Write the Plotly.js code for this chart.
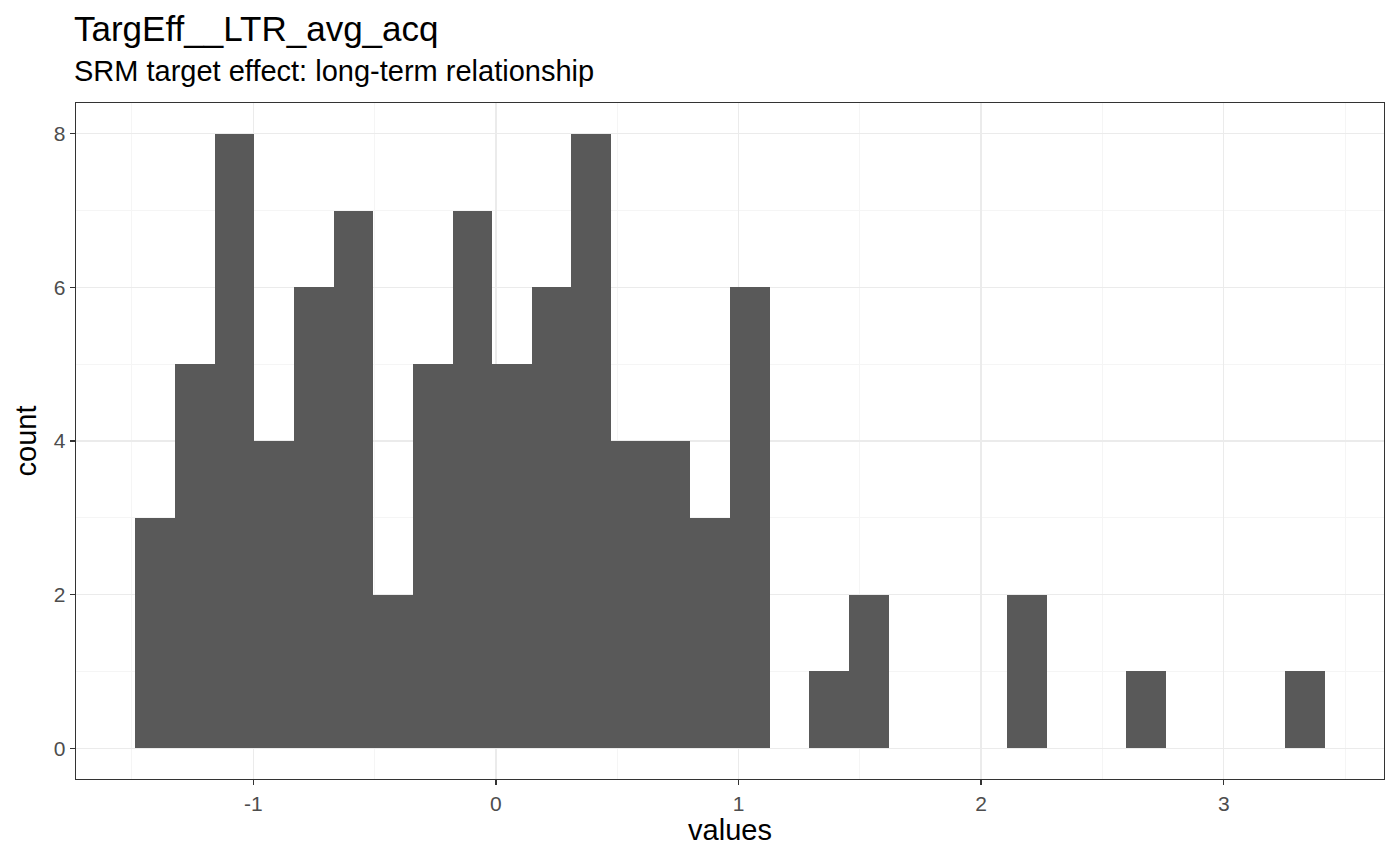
<!DOCTYPE html>
<html>
<head>
<meta charset="utf-8">
<script src="https://cdn.plot.ly/plotly-3.0.1.min.js"></script>
<style>
  html, body { margin: 0; padding: 0; background: #fff; }
  #chart { width: 1400px; height: 865px; }
</style>
</head>
<body>
<div id="chart"></div>
<script>
// histogram of TargEff__LTR_avg_acq, 30 bins
var binStart = -1.4856;
var binWidth = 0.16337;
var counts = [3, 5, 8, 4, 6, 7, 2, 5, 7, 5,
              6, 8, 4, 4, 3, 6, 0, 1, 2, 0,
              0, 0, 2, 0, 0, 1, 0, 0, 0, 1];

var xTicks = [-1, 0, 1, 2, 3];
var yTicks = [0, 2, 4, 6, 8];

var titleText = 'TargEff__LTR_avg_acq';
var subtitleText = 'SRM target effect: long-term relationship';

var centers = counts.map(function (c, i) { return binStart + (i + 0.5) * binWidth; });

var trace = {
    x: centers,
    y: counts,
    width: counts.map(function () { return binWidth; }),
    type: 'bar',
    marker: { color: '#595959', line: { width: 0 } },
    hoverinfo: 'x+y'
};

var font = 'Liberation Sans, Arial, Helvetica, sans-serif';
var lo = binStart, hi = binStart + counts.length * binWidth;
var pad = (hi - lo) * 0.05;
var ymax = Math.max.apply(null, counts);

var layout = {
    width: 1400,
    height: 865,
    margin: { l: 76, r: 16, t: 103, b: 86 },
    paper_bgcolor: '#fff',
    plot_bgcolor: '#fff',
    bargap: 0,
    showlegend: false,
    font: { family: font, color: '#000' },
    xaxis: {
        range: [lo - pad, hi + pad],
        tickvals: xTicks,
        ticktext: xTicks.map(String),
        ticks: 'outside',
        ticklen: 5,
        tickwidth: 1.5,
        tickcolor: '#333333',
        tickfont: { size: 21, color: '#4D4D4D', family: font },
        showgrid: true,
        gridcolor: '#EBEBEB',
        gridwidth: 1.3,
        minor: { dtick: 0.5, tick0: 0.5, showgrid: true, gridcolor: '#F5F5F5', gridwidth: 1, ticks: '' },
        zeroline: false,
        showline: true,
        mirror: true,
        linecolor: '#333333',
        linewidth: 1.3,
        title: { text: 'values', font: { size: 29, color: '#000', family: font }, standoff: 4 }
    },
    yaxis: {
        range: [-ymax * 0.05, ymax * 1.05],
        tickvals: yTicks,
        ticktext: yTicks.map(String),
        ticks: 'outside',
        ticklen: 5,
        tickwidth: 1.5,
        tickcolor: '#333333',
        tickfont: { size: 21, color: '#4D4D4D', family: font },
        showgrid: true,
        gridcolor: '#EBEBEB',
        gridwidth: 1.3,
        minor: { dtick: 1, tick0: 1, showgrid: true, gridcolor: '#F5F5F5', gridwidth: 1, ticks: '' },
        zeroline: false,
        showline: true,
        mirror: true,
        linecolor: '#333333',
        linewidth: 1.3,
        title: { text: 'count', font: { size: 29, color: '#000', family: font }, standoff: 8 }
    },
    annotations: [
        {
            text: titleText, xref: 'paper', yref: 'paper', x: 0, y: 1,
            xanchor: 'left', yanchor: 'bottom', yshift: 53, xshift: -4,
            showarrow: false, font: { size: 35, color: '#000', family: font }
        },
        {
            text: subtitleText, xref: 'paper', yref: 'paper', x: 0, y: 1,
            xanchor: 'left', yanchor: 'bottom', yshift: 14, xshift: -4,
            showarrow: false, font: { size: 29, color: '#000', family: font }
        }
    ]
};

Plotly.newPlot('chart', [trace], layout, { staticPlot: true });
</script>
</body>
</html>
